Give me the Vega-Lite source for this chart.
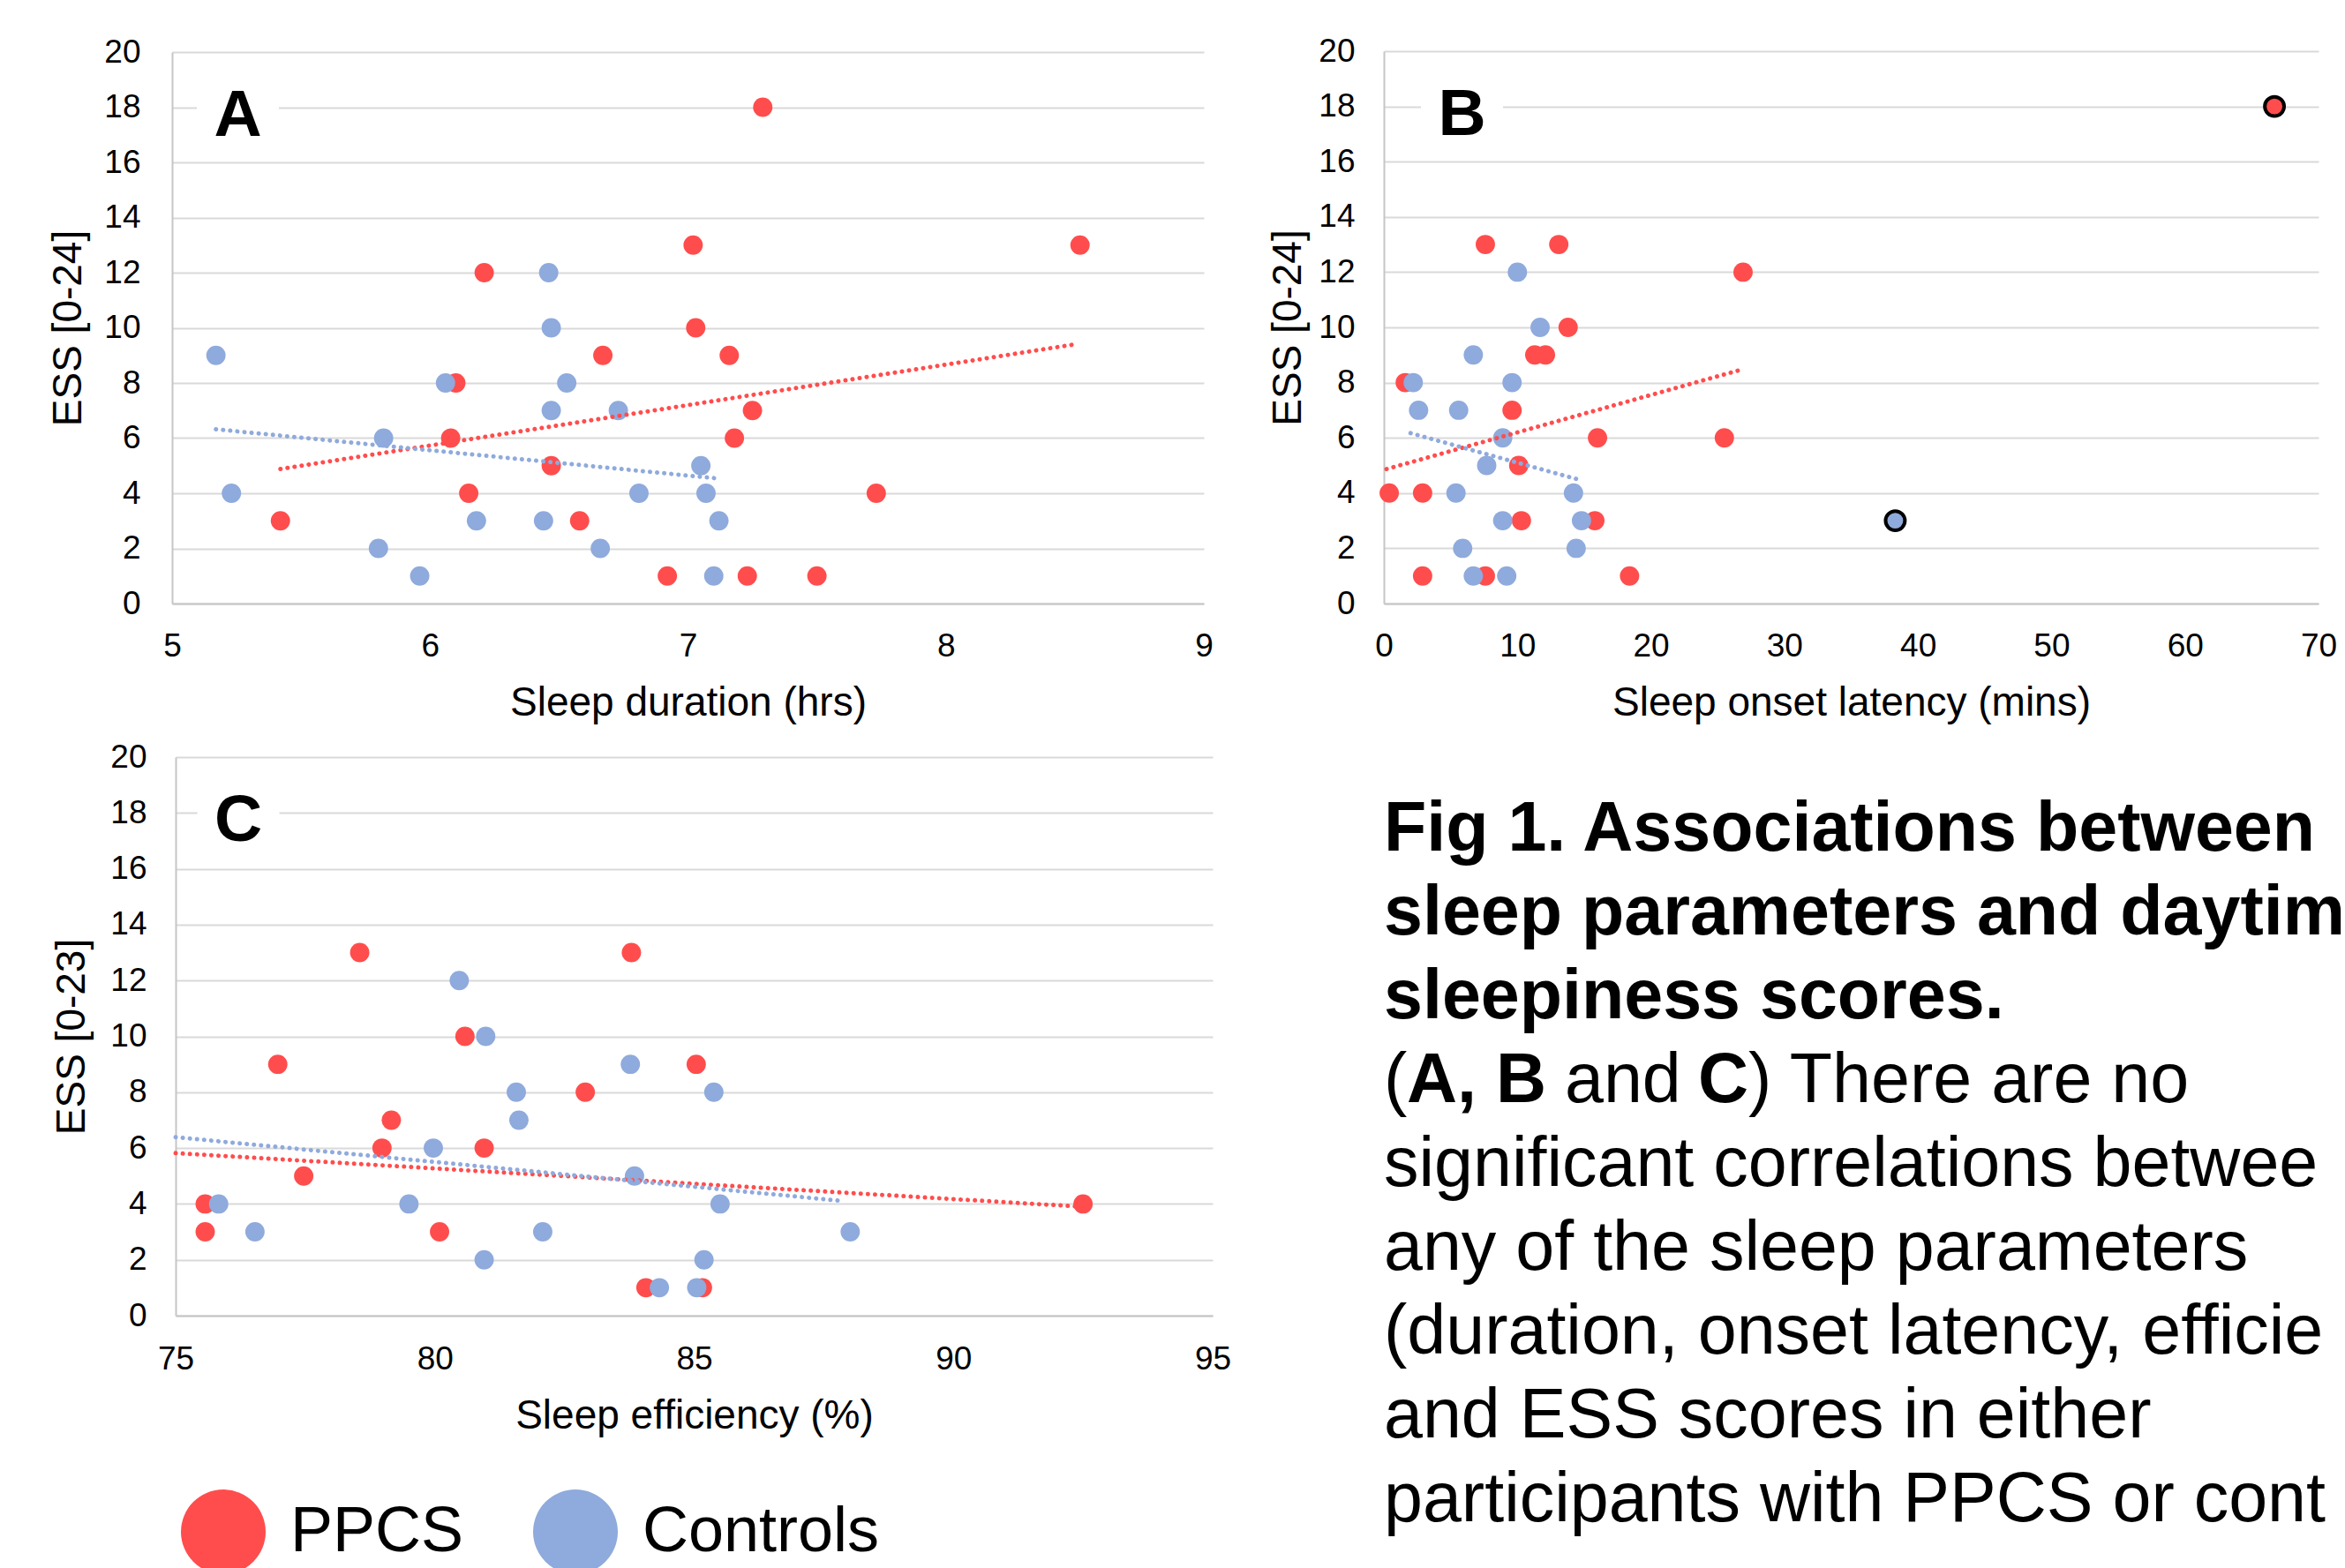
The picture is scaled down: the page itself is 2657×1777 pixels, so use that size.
{
  "$schema": "https://vega.github.io/schema/vega-lite/v6.json",
  "width": 2657,
  "height": 1777,
  "autosize": {"type": "none"},
  "padding": 0,
  "background": "white",
  "config": {
    "view": {"stroke": null},
    "font": "Liberation Sans",
    "axis": {
      "labelFont": "Liberation Sans",
      "titleFont": "Liberation Sans",
      "labelColor": "black",
      "titleColor": "black",
      "ticks": false,
      "tickSize": 0,
      "domainColor": "#c6c6c6",
      "domainWidth": 2,
      "gridColor": "#d9d9d9",
      "gridWidth": 2,
      "labelFontSize": 37,
      "titleFontSize": 46,
      "titleFontWeight": "normal",
      "labelFlush": false,
      "labelOverlap": false,
      "format": "d"
    },
    "legend": {
      "orient": "none",
      "legendX": 205,
      "legendY": 1688,
      "direction": "horizontal",
      "symbolType": "circle",
      "symbolSize": 9216,
      "symbolStrokeWidth": 0,
      "symbolOpacity": 1,
      "labelFont": "Liberation Sans",
      "labelFontSize": 72,
      "labelColor": "black",
      "labelOffset": 28,
      "labelLimit": 600,
      "columnPadding": 78,
      "padding": 0
    }
  },
  "datasets": {
    "points": [
      {"panel": "A", "group": "PPCS", "x": 7.29, "y": 18},
      {"panel": "A", "group": "PPCS", "x": 7.02, "y": 13},
      {"panel": "A", "group": "PPCS", "x": 8.52, "y": 13},
      {"panel": "A", "group": "PPCS", "x": 6.21, "y": 12},
      {"panel": "A", "group": "PPCS", "x": 7.03, "y": 10},
      {"panel": "A", "group": "PPCS", "x": 6.67, "y": 9},
      {"panel": "A", "group": "PPCS", "x": 7.16, "y": 9},
      {"panel": "A", "group": "PPCS", "x": 6.1, "y": 8},
      {"panel": "A", "group": "PPCS", "x": 7.25, "y": 7},
      {"panel": "A", "group": "PPCS", "x": 6.08, "y": 6},
      {"panel": "A", "group": "PPCS", "x": 7.18, "y": 6},
      {"panel": "A", "group": "PPCS", "x": 6.47, "y": 5},
      {"panel": "A", "group": "PPCS", "x": 6.15, "y": 4},
      {"panel": "A", "group": "PPCS", "x": 7.73, "y": 4},
      {"panel": "A", "group": "PPCS", "x": 5.42, "y": 3},
      {"panel": "A", "group": "PPCS", "x": 6.58, "y": 3},
      {"panel": "A", "group": "PPCS", "x": 6.92, "y": 1},
      {"panel": "A", "group": "PPCS", "x": 7.23, "y": 1},
      {"panel": "A", "group": "PPCS", "x": 7.5, "y": 1},
      {"panel": "B", "group": "PPCS", "x": 66.7, "y": 18, "outlier": true},
      {"panel": "B", "group": "PPCS", "x": 7.6, "y": 13},
      {"panel": "B", "group": "PPCS", "x": 13.1, "y": 13},
      {"panel": "B", "group": "PPCS", "x": 26.9, "y": 12},
      {"panel": "B", "group": "PPCS", "x": 13.8, "y": 10},
      {"panel": "B", "group": "PPCS", "x": 11.3, "y": 9},
      {"panel": "B", "group": "PPCS", "x": 12.1, "y": 9},
      {"panel": "B", "group": "PPCS", "x": 1.6, "y": 8},
      {"panel": "B", "group": "PPCS", "x": 9.6, "y": 7},
      {"panel": "B", "group": "PPCS", "x": 16.0, "y": 6},
      {"panel": "B", "group": "PPCS", "x": 25.5, "y": 6},
      {"panel": "B", "group": "PPCS", "x": 10.1, "y": 5},
      {"panel": "B", "group": "PPCS", "x": 0.4, "y": 4},
      {"panel": "B", "group": "PPCS", "x": 2.9, "y": 4},
      {"panel": "B", "group": "PPCS", "x": 10.3, "y": 3},
      {"panel": "B", "group": "PPCS", "x": 15.8, "y": 3},
      {"panel": "B", "group": "PPCS", "x": 2.9, "y": 1},
      {"panel": "B", "group": "PPCS", "x": 7.6, "y": 1},
      {"panel": "B", "group": "PPCS", "x": 18.4, "y": 1},
      {"panel": "C", "group": "PPCS", "x": 78.55, "y": 13},
      {"panel": "C", "group": "PPCS", "x": 83.79, "y": 13},
      {"panel": "C", "group": "PPCS", "x": 80.58, "y": 10},
      {"panel": "C", "group": "PPCS", "x": 76.97, "y": 9},
      {"panel": "C", "group": "PPCS", "x": 85.04, "y": 9},
      {"panel": "C", "group": "PPCS", "x": 82.9, "y": 8},
      {"panel": "C", "group": "PPCS", "x": 79.16, "y": 7},
      {"panel": "C", "group": "PPCS", "x": 78.98, "y": 6},
      {"panel": "C", "group": "PPCS", "x": 80.95, "y": 6},
      {"panel": "C", "group": "PPCS", "x": 77.47, "y": 5},
      {"panel": "C", "group": "PPCS", "x": 75.57, "y": 4},
      {"panel": "C", "group": "PPCS", "x": 92.5, "y": 4},
      {"panel": "C", "group": "PPCS", "x": 75.57, "y": 3},
      {"panel": "C", "group": "PPCS", "x": 80.09, "y": 3},
      {"panel": "C", "group": "PPCS", "x": 84.07, "y": 1},
      {"panel": "C", "group": "PPCS", "x": 85.16, "y": 1},
      {"panel": "A", "group": "Controls", "x": 5.17, "y": 9},
      {"panel": "A", "group": "Controls", "x": 6.46, "y": 12},
      {"panel": "A", "group": "Controls", "x": 6.47, "y": 10},
      {"panel": "A", "group": "Controls", "x": 6.06, "y": 8},
      {"panel": "A", "group": "Controls", "x": 6.53, "y": 8},
      {"panel": "A", "group": "Controls", "x": 6.47, "y": 7},
      {"panel": "A", "group": "Controls", "x": 6.73, "y": 7},
      {"panel": "A", "group": "Controls", "x": 5.82, "y": 6},
      {"panel": "A", "group": "Controls", "x": 7.05, "y": 5},
      {"panel": "A", "group": "Controls", "x": 5.23, "y": 4},
      {"panel": "A", "group": "Controls", "x": 6.81, "y": 4},
      {"panel": "A", "group": "Controls", "x": 7.07, "y": 4},
      {"panel": "A", "group": "Controls", "x": 6.18, "y": 3},
      {"panel": "A", "group": "Controls", "x": 6.44, "y": 3},
      {"panel": "A", "group": "Controls", "x": 7.12, "y": 3},
      {"panel": "A", "group": "Controls", "x": 5.8, "y": 2},
      {"panel": "A", "group": "Controls", "x": 6.66, "y": 2},
      {"panel": "A", "group": "Controls", "x": 5.96, "y": 1},
      {"panel": "A", "group": "Controls", "x": 7.1, "y": 1},
      {"panel": "B", "group": "Controls", "x": 10.0, "y": 12},
      {"panel": "B", "group": "Controls", "x": 11.7, "y": 10},
      {"panel": "B", "group": "Controls", "x": 6.7, "y": 9},
      {"panel": "B", "group": "Controls", "x": 2.2, "y": 8},
      {"panel": "B", "group": "Controls", "x": 9.6, "y": 8},
      {"panel": "B", "group": "Controls", "x": 2.6, "y": 7},
      {"panel": "B", "group": "Controls", "x": 5.6, "y": 7},
      {"panel": "B", "group": "Controls", "x": 8.9, "y": 6},
      {"panel": "B", "group": "Controls", "x": 7.7, "y": 5},
      {"panel": "B", "group": "Controls", "x": 5.4, "y": 4},
      {"panel": "B", "group": "Controls", "x": 14.2, "y": 4},
      {"panel": "B", "group": "Controls", "x": 8.9, "y": 3},
      {"panel": "B", "group": "Controls", "x": 14.8, "y": 3},
      {"panel": "B", "group": "Controls", "x": 38.3, "y": 3, "outlier": true},
      {"panel": "B", "group": "Controls", "x": 5.9, "y": 2},
      {"panel": "B", "group": "Controls", "x": 14.4, "y": 2},
      {"panel": "B", "group": "Controls", "x": 6.7, "y": 1},
      {"panel": "B", "group": "Controls", "x": 9.2, "y": 1},
      {"panel": "C", "group": "Controls", "x": 80.47, "y": 12},
      {"panel": "C", "group": "Controls", "x": 80.98, "y": 10},
      {"panel": "C", "group": "Controls", "x": 83.77, "y": 9},
      {"panel": "C", "group": "Controls", "x": 81.57, "y": 8},
      {"panel": "C", "group": "Controls", "x": 85.38, "y": 8},
      {"panel": "C", "group": "Controls", "x": 81.62, "y": 7},
      {"panel": "C", "group": "Controls", "x": 79.97, "y": 6},
      {"panel": "C", "group": "Controls", "x": 83.85, "y": 5},
      {"panel": "C", "group": "Controls", "x": 75.83, "y": 4},
      {"panel": "C", "group": "Controls", "x": 79.5, "y": 4},
      {"panel": "C", "group": "Controls", "x": 85.5, "y": 4},
      {"panel": "C", "group": "Controls", "x": 76.53, "y": 3},
      {"panel": "C", "group": "Controls", "x": 82.08, "y": 3},
      {"panel": "C", "group": "Controls", "x": 88.01, "y": 3},
      {"panel": "C", "group": "Controls", "x": 80.95, "y": 2},
      {"panel": "C", "group": "Controls", "x": 85.19, "y": 2},
      {"panel": "C", "group": "Controls", "x": 84.33, "y": 1},
      {"panel": "C", "group": "Controls", "x": 85.05, "y": 1}
    ],
    "trends": [
      {"panel": "A", "group": "PPCS", "x": 5.42, "y": 4.88},
      {"panel": "A", "group": "PPCS", "x": 8.5, "y": 9.4},
      {"panel": "A", "group": "Controls", "x": 5.17, "y": 6.32},
      {"panel": "A", "group": "Controls", "x": 7.11, "y": 4.54},
      {"panel": "B", "group": "PPCS", "x": 0.2, "y": 4.87},
      {"panel": "B", "group": "PPCS", "x": 27.0, "y": 8.5},
      {"panel": "B", "group": "Controls", "x": 2.0, "y": 6.17},
      {"panel": "B", "group": "Controls", "x": 14.5, "y": 4.5},
      {"panel": "C", "group": "PPCS", "x": 75.0, "y": 5.82},
      {"panel": "C", "group": "PPCS", "x": 92.4, "y": 3.91},
      {"panel": "C", "group": "Controls", "x": 75.0, "y": 6.39},
      {"panel": "C", "group": "Controls", "x": 87.9, "y": 4.1}
    ],
    "caption": [
      {"line": 1, "part": 0, "style": "bold", "text": "Fig 1. Associations between"},
      {"line": 2, "part": 0, "style": "bold", "text": "sleep parameters and daytime"},
      {"line": 3, "part": 0, "style": "bold", "text": "sleepiness scores."},
      {"line": 4, "part": 1, "style": "normal", "text": "("},
      {"line": 4, "part": 2, "style": "bold", "text": "A, B"},
      {"line": 4, "part": 3, "style": "normal", "text": "and"},
      {"line": 4, "part": 4, "style": "bold", "text": "C"},
      {"line": 4, "part": 5, "style": "normal", "text": ") There are no"},
      {"line": 5, "part": 0, "style": "normal", "text": "significant correlations between"},
      {"line": 6, "part": 0, "style": "normal", "text": "any of the sleep parameters"},
      {"line": 7, "part": 0, "style": "normal", "text": "(duration, onset latency, efficiency)"},
      {"line": 8, "part": 0, "style": "normal", "text": "and ESS scores in either"},
      {"line": 9, "part": 0, "style": "normal", "text": "participants with PPCS or controls."}
    ]
  },
  "layer": [
    {
      "layer": [
        {
          "data": {"values": [{"label": "A"}]},
          "mark": {"type": "point", "shape": "square", "filled": true, "color": "white", "opacity": 1, "size": 8649},
          "encoding": {
            "x": {"datum": 5.255, "type": "quantitative"},
            "y": {"datum": 18, "type": "quantitative"}
          }
        },
        {
          "data": {"name": "points"},
          "transform": [{"filter": "datum.panel == 'A'"}],
          "mark": {"type": "circle", "size": 480, "opacity": 1, "strokeWidth": 4},
          "encoding": {
            "x": {
              "field": "x", "type": "quantitative",
              "scale": {"domain": [5, 9], "range": [195, 1364], "nice": false, "zero": false},
              "axis": {"orient": "bottom", "offset": -1093, "values": [5, 6, 7, 8, 9], "grid": false, "labelPadding": 59, "labelBaseline": "alphabetic", "title": "Sleep duration (hrs)", "titleBaseline": "alphabetic", "titleY": 126}
            },
            "y": {
              "field": "y", "type": "quantitative",
              "scale": {"domain": [0, 20], "range": [684, 59], "nice": false, "zero": false},
              "axis": {"orient": "left", "offset": -195, "values": [0, 2, 4, 6, 8, 10, 12, 14, 16, 18, 20], "grid": true, "labelPadding": 36, "title": "ESS [0-24]", "titleAngle": 270, "titleBaseline": "alphabetic", "titleX": -104}
            },
            "color": {
              "field": "group", "type": "nominal",
              "scale": {"domain": ["PPCS", "Controls"], "range": ["#FF4D4D", "#8FAADC"]},
              "legend": {"title": null}
            },
            "stroke": {"condition": {"test": "datum.outlier", "value": "black"}, "value": "transparent"}
          }
        },
        {
          "data": {"name": "trends"},
          "transform": [{"filter": "datum.panel == 'A'"}],
          "mark": {"type": "line", "strokeWidth": 5, "strokeDash": [0.1, 8], "strokeCap": "round"},
          "encoding": {
            "x": {"field": "x", "type": "quantitative"},
            "y": {"field": "y", "type": "quantitative"},
            "stroke": {"field": "group", "type": "nominal", "scale": {"domain": ["PPCS", "Controls"], "range": ["#FF4D4D", "#8FAADC"]}, "legend": null}
          }
        },
        {
          "data": {"values": [{"label": "A"}]},
          "mark": {"type": "text", "font": "Liberation Sans", "fontSize": 75, "fontWeight": "bold", "color": "black", "align": "center", "baseline": "alphabetic", "dy": 32},
          "encoding": {
            "x": {"datum": 5.255, "type": "quantitative"},
            "y": {"datum": 18, "type": "quantitative"},
            "text": {"field": "label", "type": "nominal"}
          }
        }
      ]
    },
    {
      "layer": [
        {
          "data": {"values": [{"label": "B"}]},
          "mark": {"type": "point", "shape": "square", "filled": true, "color": "white", "opacity": 1, "size": 8649},
          "encoding": {
            "x": {"datum": 5.85, "type": "quantitative"},
            "y": {"datum": 18, "type": "quantitative"}
          }
        },
        {
          "data": {"name": "points"},
          "transform": [{"filter": "datum.panel == 'B'"}],
          "mark": {"type": "circle", "size": 480, "opacity": 1, "strokeWidth": 4},
          "encoding": {
            "x": {
              "field": "x", "type": "quantitative",
              "scale": {"domain": [0, 70], "range": [1568, 2627], "nice": false, "zero": false},
              "axis": {"orient": "bottom", "offset": -1093, "values": [0, 10, 20, 30, 40, 50, 60, 70], "grid": false, "labelPadding": 59, "labelBaseline": "alphabetic", "title": "Sleep onset latency (mins)", "titleBaseline": "alphabetic", "titleY": 126}
            },
            "y": {
              "field": "y", "type": "quantitative",
              "scale": {"domain": [0, 20], "range": [684, 58], "nice": false, "zero": false},
              "axis": {"orient": "left", "offset": -1568, "values": [0, 2, 4, 6, 8, 10, 12, 14, 16, 18, 20], "grid": true, "labelPadding": 33, "title": "ESS [0-24]", "titleAngle": 270, "titleBaseline": "alphabetic", "titleX": -95}
            },
            "color": {
              "field": "group", "type": "nominal",
              "scale": {"domain": ["PPCS", "Controls"], "range": ["#FF4D4D", "#8FAADC"]},
              "legend": {"title": null}
            },
            "stroke": {"condition": {"test": "datum.outlier", "value": "black"}, "value": "transparent"}
          }
        },
        {
          "data": {"name": "trends"},
          "transform": [{"filter": "datum.panel == 'B'"}],
          "mark": {"type": "line", "strokeWidth": 5, "strokeDash": [0.1, 8], "strokeCap": "round"},
          "encoding": {
            "x": {"field": "x", "type": "quantitative"},
            "y": {"field": "y", "type": "quantitative"},
            "stroke": {"field": "group", "type": "nominal", "scale": {"domain": ["PPCS", "Controls"], "range": ["#FF4D4D", "#8FAADC"]}, "legend": null}
          }
        },
        {
          "data": {"values": [{"label": "B"}]},
          "mark": {"type": "text", "font": "Liberation Sans", "fontSize": 75, "fontWeight": "bold", "color": "black", "align": "center", "baseline": "alphabetic", "dy": 32},
          "encoding": {
            "x": {"datum": 5.85, "type": "quantitative"},
            "y": {"datum": 18, "type": "quantitative"},
            "text": {"field": "label", "type": "nominal"}
          }
        }
      ]
    },
    {
      "layer": [
        {
          "data": {"values": [{"label": "C"}]},
          "mark": {"type": "point", "shape": "square", "filled": true, "color": "white", "opacity": 1, "size": 8649},
          "encoding": {
            "x": {"datum": 76.21, "type": "quantitative"},
            "y": {"datum": 18, "type": "quantitative"}
          }
        },
        {
          "data": {"name": "points"},
          "transform": [{"filter": "datum.panel == 'C'"}],
          "mark": {"type": "circle", "size": 480, "opacity": 1, "strokeWidth": 4},
          "encoding": {
            "x": {
              "field": "x", "type": "quantitative",
              "scale": {"domain": [75, 95], "range": [199, 1374], "nice": false, "zero": false},
              "axis": {"orient": "bottom", "offset": -286, "values": [75, 80, 85, 90, 95], "grid": false, "labelPadding": 60, "labelBaseline": "alphabetic", "title": "Sleep efficiency (%)", "titleBaseline": "alphabetic", "titleY": 127}
            },
            "y": {
              "field": "y", "type": "quantitative",
              "scale": {"domain": [0, 20], "range": [1491, 858], "nice": false, "zero": false},
              "axis": {"orient": "left", "offset": -199, "values": [0, 2, 4, 6, 8, 10, 12, 14, 16, 18, 20], "grid": true, "labelPadding": 33, "title": "ESS [0-23]", "titleAngle": 270, "titleBaseline": "alphabetic", "titleX": -104}
            },
            "color": {
              "field": "group", "type": "nominal",
              "scale": {"domain": ["PPCS", "Controls"], "range": ["#FF4D4D", "#8FAADC"]},
              "legend": {"title": null}
            },
            "stroke": {"condition": {"test": "datum.outlier", "value": "black"}, "value": "transparent"}
          }
        },
        {
          "data": {"name": "trends"},
          "transform": [{"filter": "datum.panel == 'C'"}],
          "mark": {"type": "line", "strokeWidth": 5, "strokeDash": [0.1, 8], "strokeCap": "round"},
          "encoding": {
            "x": {"field": "x", "type": "quantitative"},
            "y": {"field": "y", "type": "quantitative"},
            "stroke": {"field": "group", "type": "nominal", "scale": {"domain": ["PPCS", "Controls"], "range": ["#FF4D4D", "#8FAADC"]}, "legend": null}
          }
        },
        {
          "data": {"values": [{"label": "C"}]},
          "mark": {"type": "text", "font": "Liberation Sans", "fontSize": 75, "fontWeight": "bold", "color": "black", "align": "center", "baseline": "alphabetic", "dy": 32},
          "encoding": {
            "x": {"datum": 76.21, "type": "quantitative"},
            "y": {"datum": 18, "type": "quantitative"},
            "text": {"field": "label", "type": "nominal"}
          }
        }
      ]
    },
    {
      "data": {"name": "caption"},
      "encoding": {
        "x": {"datum": 0, "type": "quantitative", "scale": {"domain": [0, 1], "range": [1568, 2657]}, "axis": null},
        "y": {"field": "line", "type": "quantitative", "scale": {"domain": [1, 9], "range": [964, 1724], "zero": false, "nice": false}, "axis": null},
        "text": {"field": "text", "type": "nominal"}
      },
      "layer": [
        {
          "transform": [{"filter": "datum.part == 0 && datum.style == 'bold'"}],
          "mark": {"type": "text", "font": "Liberation Sans", "fontSize": 79, "fontWeight": "bold", "color": "black", "align": "left", "baseline": "alphabetic", "limit": 1089, "ellipsis": "\u200b"}
        },
        {
          "transform": [{"filter": "datum.part == 0 && datum.style == 'normal'"}],
          "mark": {"type": "text", "font": "Liberation Sans", "fontSize": 79, "fontWeight": "normal", "color": "black", "align": "left", "baseline": "alphabetic", "limit": 1089, "ellipsis": "\u200b"}
        },
        {
          "transform": [{"filter": "datum.part == 1"}],
          "mark": {"type": "text", "font": "Liberation Sans", "fontSize": 79, "fontWeight": "normal", "color": "black", "align": "left", "baseline": "alphabetic", "dx": 0}
        },
        {
          "transform": [{"filter": "datum.part == 2"}],
          "mark": {"type": "text", "font": "Liberation Sans", "fontSize": 79, "fontWeight": "bold", "color": "black", "align": "left", "baseline": "alphabetic", "dx": 26}
        },
        {
          "transform": [{"filter": "datum.part == 3"}],
          "mark": {"type": "text", "font": "Liberation Sans", "fontSize": 79, "fontWeight": "normal", "color": "black", "align": "left", "baseline": "alphabetic", "dx": 205}
        },
        {
          "transform": [{"filter": "datum.part == 4"}],
          "mark": {"type": "text", "font": "Liberation Sans", "fontSize": 79, "fontWeight": "bold", "color": "black", "align": "left", "baseline": "alphabetic", "dx": 356}
        },
        {
          "transform": [{"filter": "datum.part == 5"}],
          "mark": {"type": "text", "font": "Liberation Sans", "fontSize": 79, "fontWeight": "normal", "color": "black", "align": "left", "baseline": "alphabetic", "dx": 413, "limit": 676, "ellipsis": "\u200b"}
        }
      ]
    }
  ],
  "resolve": {"scale": {"x": "independent", "y": "independent", "stroke": "independent"}}
}
